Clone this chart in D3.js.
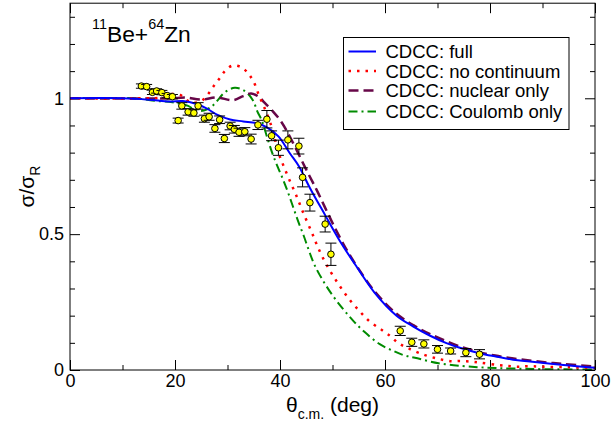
<!DOCTYPE html>
<html><head><meta charset="utf-8">
<script src="https://cdn.jsdelivr.net/npm/d3@7"></script>
<style>
body{margin:0;background:#fff}
text{font-family:"Liberation Sans",Arial,Helvetica,sans-serif;fill:#000}
</style>
</head><body>
<svg id="chart" width="612" height="423"></svg>
<script>
// ---------------- data ----------------
const xMajorTicks = [0, 20, 40, 60, 80, 100];
const xMinorTicks = [10, 30, 50, 70, 90];
const yMajorTicks = [0, 0.5, 1];
const yMinorTicks = [0.1, 0.2, 0.3, 0.4, 0.6, 0.7, 0.8, 0.9, 1.1, 1.2, 1.3];

const expAngle = [13.6, 14.6, 15.7, 16.5, 17.5, 18.5, 19.5, 20.6, 21.3, 22.5, 23.6, 24.4, 25.6, 26.5, 27.6, 28.5, 29.4, 30.5, 31.3, 32.2, 33.3, 34.5, 35.8, 37.5, 38.4, 39.7, 41.5, 43.6, 44.3, 45.7, 48.6, 49.7, 62.9, 65.1, 67.4, 70.0, 72.5, 75.4, 78.0];
const expValue = [1.045, 1.043, 1.022, 1.027, 1.021, 1.010, 1.006, 0.918, 0.972, 0.950, 0.946, 0.972, 0.925, 0.932, 0.889, 0.921, 0.852, 0.898, 0.886, 0.875, 0.877, 0.850, 0.902, 0.923, 0.862, 0.818, 0.847, 0.824, 0.709, 0.616, 0.537, 0.426, 0.144, 0.102, 0.096, 0.076, 0.070, 0.064, 0.058];
const expError = [0.008, 0.008, 0.008, 0.008, 0.008, 0.008, 0.008, 0.009, 0.012, 0.012, 0.012, 0.012, 0.013, 0.013, 0.014, 0.014, 0.015, 0.014, 0.014, 0.015, 0.015, 0.018, 0.017, 0.032, 0.018, 0.028, 0.033, 0.029, 0.035, 0.031, 0.029, 0.041, 0.017, 0.015, 0.015, 0.014, 0.011, 0.015, 0.017];

const fullAngle = [0, 10, 15, 19, 21.5, 24, 26, 28, 30.5, 33, 35.6, 37.5, 39.7, 41.9, 43.6, 45.7, 48.6, 51.4, 54.6, 58, 62.2, 65.4, 68.6, 71.7, 74.9, 78.1, 81.3, 84.4, 87.6, 94, 100];
const fullValue = [1.0, 1.0, 0.995, 0.988, 0.99, 0.98, 0.963, 0.94, 0.922, 0.915, 0.908, 0.893, 0.86, 0.797, 0.75, 0.67, 0.57, 0.475, 0.38, 0.285, 0.2, 0.16, 0.126, 0.099, 0.078, 0.061, 0.049, 0.038, 0.031, 0.018, 0.008];

const noContAngle = [0, 14, 17, 19, 21, 23, 25, 26.3, 27.3, 28.4, 29.5, 30.9, 32.7, 34, 35, 36, 37, 38.4, 39.7, 40.6, 41.9, 43.2, 44.5, 46, 47.3, 48.9, 51, 53, 55, 57, 59.4, 61, 62.5, 64.4, 67.3, 70.2, 72.7, 74.3, 76.2, 78.1, 81.6, 83.5, 85.4, 87, 90, 95, 100];
const noContValue = [1.0, 1.0, 1.002, 1.015, 1.012, 0.985, 0.99, 1.015, 1.043, 1.071, 1.1, 1.12, 1.114, 1.09, 1.06, 1.01, 0.967, 0.895, 0.8, 0.755, 0.695, 0.638, 0.575, 0.509, 0.448, 0.386, 0.32, 0.265, 0.22, 0.18, 0.147, 0.125, 0.1, 0.08, 0.057, 0.041, 0.032, 0.033, 0.031, 0.027, 0.018, 0.015, 0.012, 0.014, 0.012, 0.01, 0.008];

const nuclearAngle = [0, 20, 22, 25, 28, 31, 33, 34.5, 36, 37, 38.5, 40.3, 42.5, 44.8, 47, 48.9, 50.8, 52.7, 54.9, 58, 62, 65.4, 68.6, 75, 81, 88, 94, 100];
const nuclearValue = [1.0, 1.0, 1.003, 0.995, 1.003, 0.993, 1.008, 1.018, 1.005, 0.985, 0.955, 0.912, 0.835, 0.745, 0.662, 0.585, 0.51, 0.442, 0.374, 0.29, 0.21, 0.165, 0.132, 0.082, 0.053, 0.034, 0.022, 0.013];

const coulAngle = [0, 12, 16.5, 19.5, 22.5, 24, 25.5, 27, 28, 29.5, 31.4, 33.3, 34.8, 35.7, 36.5, 37.5, 38.5, 39.5, 40.5, 41.5, 42.5, 43.5, 44.5, 45.5, 46.5, 48, 50, 52, 54, 56, 59, 61.6, 63.5, 65.7, 70.2, 74.6, 78.1, 81.3, 85, 90, 100];
const coulValue = [1.0, 1.0, 0.99, 0.985, 0.972, 0.955, 0.955, 0.97, 0.99, 1.022, 1.039, 1.027, 0.994, 0.951, 0.92, 0.86, 0.8, 0.75, 0.705, 0.655, 0.6, 0.545, 0.495, 0.44, 0.39, 0.335, 0.275, 0.225, 0.18, 0.142, 0.095, 0.07, 0.055, 0.045, 0.025, 0.015, 0.01, 0.007, 0.005, 0.003, 0.002];

const legendLabels = ["CDCC: full", "CDCC: no continuum", "CDCC: nuclear only", "CDCC: Coulomb only"];

// ---------------- drawing ----------------
const svg = d3.select("#chart");
const x = d3.scaleLinear().domain([0, 100]).range([70, 595]);
const y = d3.scaleLinear().domain([0, 1.35]).range([370, 3.2]);

const X0 = x(0), X1 = x(100), Y0 = y(0), Y1 = y(1.35);

svg.append("defs").append("clipPath").attr("id", "plotclip")
  .append("rect").attr("x", X0).attr("y", Y1).attr("width", X1 - X0).attr("height", Y0 - Y1);

function styleAxis(g) {
  g.select(".domain").remove();
  g.attr("font-family", null).attr("font-size", null);
  g.selectAll(".tick line").attr("stroke", "#000").attr("stroke-width", 1);
  g.selectAll(".tick text").style("font-size", "18px");
}

// bottom
svg.append("g").attr("transform", `translate(0,${Y0})`)
  .call(d3.axisBottom(x).tickValues(xMajorTicks).tickSize(-10).tickPadding(4).tickFormat(d3.format("d")))
  .call(styleAxis);
svg.append("g").attr("transform", `translate(0,${Y0})`)
  .call(d3.axisBottom(x).tickValues(xMinorTicks).tickSize(-5).tickFormat(""))
  .call(styleAxis);
// top
svg.append("g").attr("transform", `translate(0,${Y1})`)
  .call(d3.axisTop(x).tickValues(xMajorTicks).tickSize(-10).tickFormat(""))
  .call(styleAxis);
svg.append("g").attr("transform", `translate(0,${Y1})`)
  .call(d3.axisTop(x).tickValues(xMinorTicks).tickSize(-5).tickFormat(""))
  .call(styleAxis);
// left
svg.append("g").attr("transform", `translate(${X0},0)`)
  .call(d3.axisLeft(y).tickValues(yMajorTicks).tickSize(-10).tickPadding(6).tickFormat(d3.format("~g")))
  .call(styleAxis);
svg.append("g").attr("transform", `translate(${X0},0)`)
  .call(d3.axisLeft(y).tickValues(yMinorTicks).tickSize(-5).tickFormat(""))
  .call(styleAxis);
// right
svg.append("g").attr("transform", `translate(${X1},0)`)
  .call(d3.axisRight(y).tickValues(yMajorTicks).tickSize(-10).tickFormat(""))
  .call(styleAxis);
svg.append("g").attr("transform", `translate(${X1},0)`)
  .call(d3.axisRight(y).tickValues(yMinorTicks).tickSize(-5).tickFormat(""))
  .call(styleAxis);

// curves
const line = d3.line().x(d => x(d[0])).y(d => y(d[1])).curve(d3.curveCatmullRom.alpha(0.5));
const series = [
  {a: coulAngle, v: coulValue, color: "#008b00", dash: "9 4 2 4", w: 2, cap: "butt"},
  {a: nuclearAngle, v: nuclearValue, color: "#670748", dash: "10 5", w: 2.5, cap: "butt"},
  {a: noContAngle, v: noContValue, color: "#ff0000", dash: "2.5 6", w: 2.5, cap: "butt"},
  {a: fullAngle, v: fullValue, color: "#0000ff", dash: null, w: 2, cap: "butt"}
];
const curveG = svg.append("g").attr("clip-path", "url(#plotclip)");
series.forEach(s => {
  curveG.append("path")
    .datum(s.a.map((a, i) => [a, s.v[i]]))
    .attr("d", line)
    .attr("fill", "none")
    .attr("stroke", s.color)
    .attr("stroke-width", s.w)
    .attr("stroke-dasharray", s.dash)
    .attr("stroke-linecap", s.cap);
});

// experimental points
const pts = expAngle.map((a, i) => ({a, v: expValue[i], e: expError[i]}));
const ptG = svg.append("g");
const pg = ptG.selectAll("g.pt").data(pts).join("g").attr("class", "pt");
pg.append("line").attr("x1", d => x(d.a)).attr("x2", d => x(d.a))
  .attr("y1", d => y(d.v + d.e)).attr("y2", d => y(d.v - d.e))
  .attr("stroke", "#000").attr("stroke-width", 1);
pg.append("line").attr("x1", d => x(d.a) - 5.5).attr("x2", d => x(d.a) + 5.5)
  .attr("y1", d => y(d.v + d.e)).attr("y2", d => y(d.v + d.e))
  .attr("stroke", "#000").attr("stroke-width", 1);
pg.append("line").attr("x1", d => x(d.a) - 5.5).attr("x2", d => x(d.a) + 5.5)
  .attr("y1", d => y(d.v - d.e)).attr("y2", d => y(d.v - d.e))
  .attr("stroke", "#000").attr("stroke-width", 1);
pg.append("circle").attr("cx", d => x(d.a)).attr("cy", d => y(d.v)).attr("r", 3.3)
  .attr("fill", "#ffff00").attr("stroke", "#000").attr("stroke-width", 1);

// frame
svg.append("rect").attr("x", X0).attr("y", Y1).attr("width", X1 - X0).attr("height", Y0 - Y1)
  .attr("fill", "none").attr("stroke", "#000").attr("stroke-width", 1);

// legend
const lg = svg.append("g");
lg.append("rect").attr("x", 343.5).attr("y", 37.5).attr("width", 225.5).attr("height", 92)
  .attr("fill", "#fff").attr("stroke", "#000").attr("stroke-width", 1);
const legendSeries = [series[3], series[2], series[1], series[0]];
const legendBase = [58, 77.5, 97, 118];
legendSeries.forEach((s, i) => {
  lg.append("line").attr("x1", 348.5).attr("x2", 376).attr("y1", legendBase[i] - 6.5).attr("y2", legendBase[i] - 6.5)
    .attr("stroke", s.color).attr("stroke-width", s.w).attr("stroke-dasharray", s.dash);
  lg.append("text").attr("x", 385.5).attr("y", legendBase[i]).style("font-size", "18.5px").text(legendLabels[i]);
});

// title
const t = svg.append("text").attr("x", 92).attr("y", 42).style("font-size", "22.8px");
t.append("tspan").attr("dy", -13.5).style("font-size", "14.4px").text("11");
t.append("tspan").attr("dy", 13.5).text("Be+");
t.append("tspan").attr("dy", -13.5).style("font-size", "14.4px").text("64");
t.append("tspan").attr("dy", 13.5).text("Zn");

// axis titles
const xl = svg.append("text").attr("x", (X0 + X1) / 2).attr("y", 412).attr("text-anchor", "middle").style("font-size", "21px");
xl.append("tspan").text("θ");
xl.append("tspan").attr("dy", 7).style("font-size", "14px").text("c.m.");
xl.append("tspan").attr("dy", -7).text(" (deg)");

const yl = svg.append("text").attr("transform", `translate(34,${(Y0 + Y1) / 2}) rotate(-90)`)
  .attr("text-anchor", "middle").style("font-size", "21px");
yl.append("tspan").text("σ/σ");
yl.append("tspan").attr("dy", 6).style("font-size", "14px").text("R");
</script>
</body></html>
